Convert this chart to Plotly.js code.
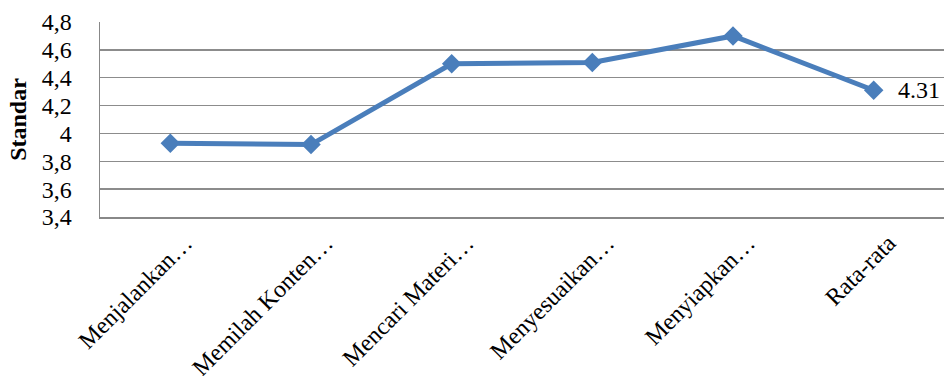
<!DOCTYPE html>
<html>
<head>
<meta charset="utf-8">
<script src="https://cdn.plot.ly/plotly-3.0.1.min.js"></script>
<style>html,body{margin:0;padding:0;background:#fff;}#chart{width:944px;height:376px;}</style>
</head>
<body>
<div id="chart"></div>
<script>
const categories = ["Menjalankan…", "Memilah Konten…", "Mencari Materi…", "Menyesuaikan…", "Menyiapkan…", "Rata-rata"];
const values = [3.93, 3.92, 4.50, 4.51, 4.70, 4.31];
const yTicks = [3.4, 3.6, 3.8, 4.0, 4.2, 4.4, 4.6, 4.8];
const yTickText = ["3,4", "3,6", "3,8", "4", "4,2", "4,4", "4,6", "4,8"];
const labelIndex = 5;
const labelText = "4.31";

const FONT = "Liberation Serif";

const trace = {
  x: categories,
  y: values,
  type: "scatter",
  mode: "lines+markers",
  line: {color: "#4a7ebb", width: 5},
  marker: {symbol: "diamond", size: 15, color: "#4a7ebb"},
  cliponaxis: false,
  hoverinfo: "skip"
};

const layout = {
  width: 944, height: 376,
  margin: {l: 100, r: 0, t: 22, b: 159},
  paper_bgcolor: "#fff",
  plot_bgcolor: "#fff",
  showlegend: false,
  font: {family: FONT, color: "#000", size: 24},
  xaxis: {
    type: "category",
    range: [-0.5, categories.length - 0.5],
    tickangle: -45,
    showgrid: false,
    showline: true,
    linecolor: "#888",
    linewidth: 1.5,
    ticks: "",
    ticklabelshift: 15,
    ticklabelstandoff: 1,
    tickfont: {family: FONT, size: 24, color: "#000"},
    zeroline: false
  },
  yaxis: {
    range: [3.4, 4.8],
    tickvals: yTicks,
    ticktext: yTickText,
    showgrid: true,
    gridcolor: "#8c8c8c",
    gridwidth: 1.5,
    showline: true,
    linecolor: "#888",
    linewidth: 1.5,
    ticks: "",
    ticklabelstandoff: 22,
    tickfont: {family: FONT, size: 24, color: "#000"},
    zeroline: false,
    title: {text: "<b>Standar</b>", font: {family: FONT, size: 24, color: "#000"}, standoff: 8}
  },
  annotations: [{
    x: categories[labelIndex], y: values[labelIndex],
    xref: "x", yref: "y",
    text: labelText,
    showarrow: false,
    xanchor: "left", yanchor: "middle",
    xshift: 22,
    font: {family: FONT, size: 24, color: "#000"}
  }]
};

Plotly.newPlot("chart", [trace], layout, {staticPlot: true, displayModeBar: false});
</script>
</body>
</html>
